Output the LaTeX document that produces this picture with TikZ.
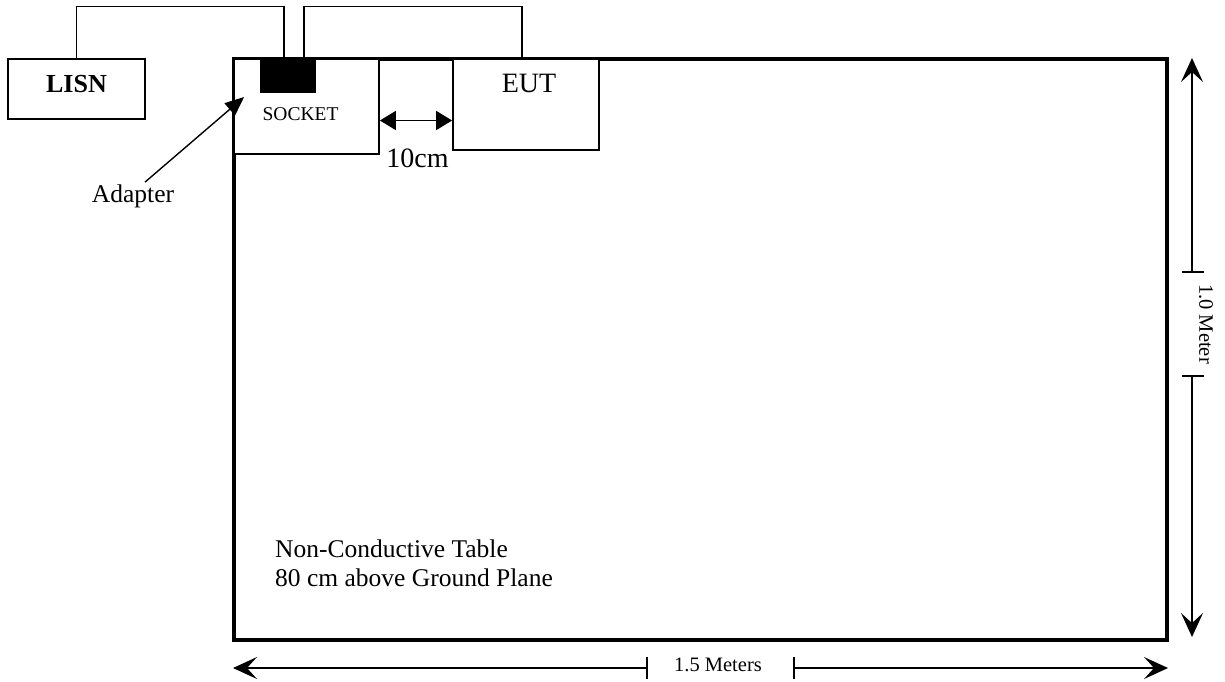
\documentclass[tikz,border=0pt]{standalone}
\usepackage{fontspec}
\setmainfont{Liberation Serif}
\usetikzlibrary{arrows.meta}

\begin{document}
\begin{tikzpicture}[x=1pt, y=-1pt, every node/.style={inner sep=0pt},
  box/.style={draw, line width=1.8pt, fill=white},
  wire/.style={line width=1.2pt},
  dimline/.style={line width=1.4pt},
  dimtip/.style={dimline, -{Stealth[length=24pt, width=22pt, inset=10pt]}},
  gaptip/.style={line width=1.8pt, {Triangle[length=16pt, width=19pt]}-{Triangle[length=16pt, width=19pt]}},
  lbl/.style={font=\fontsize{25.5}{29}\selectfont}]
  \useasboundingbox (0,0) rectangle (1225,681);
  % table and boxes
  \node[draw, line width=3.5pt, minimum width=933pt, minimum height=581pt] (table) at (700.5,349.5) {};
  \node[box, minimum width=137pt, minimum height=60pt] (lisn) at (76.5,89) {};
  \node[font=\fontsize{26}{31}\selectfont\bfseries] (lisnlbl) at (76.5,84.5) {LISN};
  \node[box, minimum width=145pt, minimum height=95pt] (socket) at (306.5,106.5) {};
  \node[font=\fontsize{19.5}{23}\selectfont] (socketlbl) at (300.5,114.5) {SOCKET};
  \node[fill=black, minimum width=56pt, minimum height=34pt] (adapter) at (288,76) {};
  \node[box, minimum width=146pt, minimum height=91pt] (eut) at (526,104.5) {};
  \node[font=\fontsize{28}{33}\selectfont] (eutlbl) at (529,83.5) {EUT};
  % wires
  \draw[wire] (lisn.north) -- ++(0,-52) -| ([xshift=-4pt]adapter.north);
  \draw[wire] ([xshift=16pt]adapter.north) -- ++(0,-52) -| ([xshift=-4pt]eut.north);
  % 10cm gap
  \draw[gaptip] ([yshift=-14pt]socket.east) -- ([yshift=-14pt]socket.east -| eut.west);
  \node[font=\fontsize{28}{33}\selectfont] (gaplbl) at (417.5,158.5) {10cm};
  % adapter pointer
  \node[lbl, anchor=base] (adlbl) at (133,202) {Adapter};
  \draw[line width=1.4pt, -{Triangle[length=19pt, width=16pt]}] ([xshift=12pt,yshift=2pt]adlbl.north) -- ([xshift=11pt,yshift=9.5pt]socket.west);
  % table note
  \node[lbl, anchor=west, align=left] (note) at (275,563) {Non-Conductive Table\\80 cm above Ground Plane};
  % 1.0 Meter
  \coordinate (vtop) at (1192,58);
  \coordinate (vbot) at (1192,637);
  \coordinate (vt1) at (1192,272);
  \coordinate (vt2) at (1192,376);
  \node[font=\fontsize{20.5}{24}\selectfont, rotate=-90] (vlbl) at (1206,324) {1.0 Meter};
  \draw[dimtip] (vt1) -- (vtop);
  \draw[dimtip] (vt2) -- (vbot);
  \draw[dimline] ([xshift=-10pt]vt1) -- ([xshift=12pt]vt1);
  \draw[dimline] ([xshift=-10pt]vt2) -- ([xshift=12pt]vt2);
  % 1.5 Meters
  \coordinate (hl) at (233,668);
  \coordinate (hr) at (1168,668);
  \coordinate (ht1) at (647,668);
  \coordinate (ht2) at (794,668);
  \node[font=\fontsize{20.5}{24}\selectfont] (hlbl) at (718,665) {1.5 Meters};
  \draw[dimtip] (ht1) -- (hl);
  \draw[dimtip] (ht2) -- (hr);
  \draw[dimline] ([yshift=-11pt]ht1) -- ([yshift=11pt]ht1);
  \draw[dimline] ([yshift=-11pt]ht2) -- ([yshift=11pt]ht2);
\end{tikzpicture}
\end{document}
